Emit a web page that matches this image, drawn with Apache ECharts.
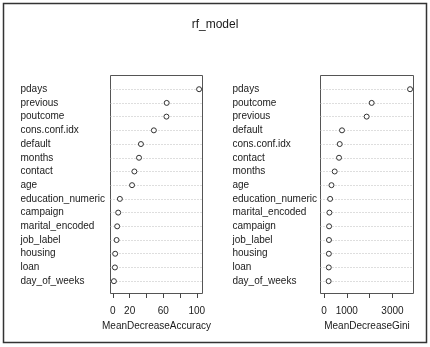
<!DOCTYPE html>
<html>
<head>
<meta charset="utf-8">
<script src="https://cdn.jsdelivr.net/npm/echarts@6/dist/echarts.min.js"></script>
<style>
html,body{margin:0;padding:0;background:#fff;}
#chart{width:430px;height:347px;}
</style>
</head>
<body>
<div id="chart"></div>
<script>
// ---- data ----
const titleText = 'rf_model';
const accNames = ['pdays','previous','poutcome','cons.conf.idx','default','months','contact','age','education_numeric','campaign','marital_encoded','job_label','housing','loan','day_of_weeks'];
const accValues = [102.7, 64.1, 63.8, 48.8, 33.4, 31.1, 25.6, 22.8, 8.3, 6.3, 5.1, 4.4, 2.7, 2.4, 1.2];
const accTicks = [0, 20, 40, 60, 80, 100];
const accTickLabels = [0, 20, 60, 100];
const accTitle = 'MeanDecreaseAccuracy';

const giniNames = ['pdays','poutcome','previous','default','cons.conf.idx','contact','months','age','education_numeric','marital_encoded','campaign','job_label','housing','loan','day_of_weeks'];
const giniValues = [3770, 2090, 1870, 790, 690, 660, 470, 330, 270, 240, 225, 220, 215, 212, 205];
const giniTicks = [0, 1000, 2000, 3000];
const giniTickLabels = [0, 1000, 3000];
const giniTitle = 'MeanDecreaseGini';

// ---- build ----
const FONT = '"Liberation Sans", Arial, sans-serif';
const n = accNames.length;
const rows = accNames.map((_, i) => n - i); // top row = n

function xRange(vals, xmin) {
  const lo = xmin !== undefined ? xmin : Math.min(...vals);
  const hi = Math.max(...vals);
  const pad = (hi - lo) * 0.04;
  return [lo - pad, hi + pad];
}
const accR = xRange(accValues);
const giniR = xRange(giniValues, 0);

function xAxisCfg(idx, r, ticks, labels, name) {
  return {
    type: 'value', gridIndex: idx, min: r[0], max: r[1],
    axisLine: {show: false},
    splitLine: {show: false},
    axisTick: {show: true, customValues: ticks, length: 4.5, inside: false,
      lineStyle: {color: '#444', width: 1}},
    axisLabel: {show: true, customValues: labels, margin: 13, color: '#1a1a1a',
      fontFamily: FONT, fontSize: 10, hideOverlap: false,
      formatter: v => String(Math.round(v))},
    name: name, nameLocation: 'middle', nameGap: 27,
    nameTextStyle: {color: '#1a1a1a', fontFamily: FONT, fontSize: 10}
  };
}
function yAxisCfg(idx, names, margin) {
  return {
    type: 'value', gridIndex: idx, min: 0.1, max: 16,
    axisLine: {show: false}, axisTick: {show: false}, splitLine: {show: false},
    axisLabel: {show: true, customValues: rows, align: 'left', margin: margin,
      color: '#1a1a1a', fontFamily: FONT, fontSize: 10,
      formatter: v => names[n - Math.round(v)]}
  };
}
function series(idx, vals) {
  return {
    type: 'scatter', xAxisIndex: idx, yAxisIndex: idx,
    data: vals.map((v, i) => [v, rows[i]]),
    symbol: 'circle', symbolSize: 5,
    itemStyle: {color: '#fff', borderColor: '#333', borderWidth: 1, opacity: 1},
    silent: true,
    markLine: {
      silent: true, symbol: ['none', 'none'], label: {show: false},
      lineStyle: {type: [1, 2], color: '#bdbdbd', width: 1},
      data: rows.map(r => ({yAxis: r})),
      z: 1
    },
    z: 3
  };
}

const chart = echarts.init(document.getElementById('chart'), null, {renderer: 'canvas'});
chart.setOption({
  animation: false,
  backgroundColor: '#fff',
  title: {text: titleText, left: 'center', top: 14,
    textStyle: {fontFamily: FONT, fontSize: 12, fontWeight: 'normal', color: '#1a1a1a'}},
  grid: [
    {left: 110.5, top: 75.5, width: 92, height: 218, show: true, borderColor: '#555', borderWidth: 1, backgroundColor: 'transparent'},
    {left: 320.5, top: 75.5, width: 93, height: 218, show: true, borderColor: '#555', borderWidth: 1, backgroundColor: 'transparent'}
  ],
  xAxis: [
    xAxisCfg(0, accR, accTicks, accTickLabels, accTitle),
    xAxisCfg(1, giniR, giniTicks, giniTickLabels, giniTitle)
  ],
  yAxis: [
    yAxisCfg(0, accNames, 90),
    yAxisCfg(1, giniNames, 88)
  ],
  series: [series(0, accValues), series(1, giniValues)],
  graphic: [{
    type: 'rect', silent: true,
    shape: {x: 3.5, y: 3.5, width: 423, height: 339},
    style: {fill: 'none', stroke: '#333', lineWidth: 1.5}
  }]
});
</script>
</body>
</html>
